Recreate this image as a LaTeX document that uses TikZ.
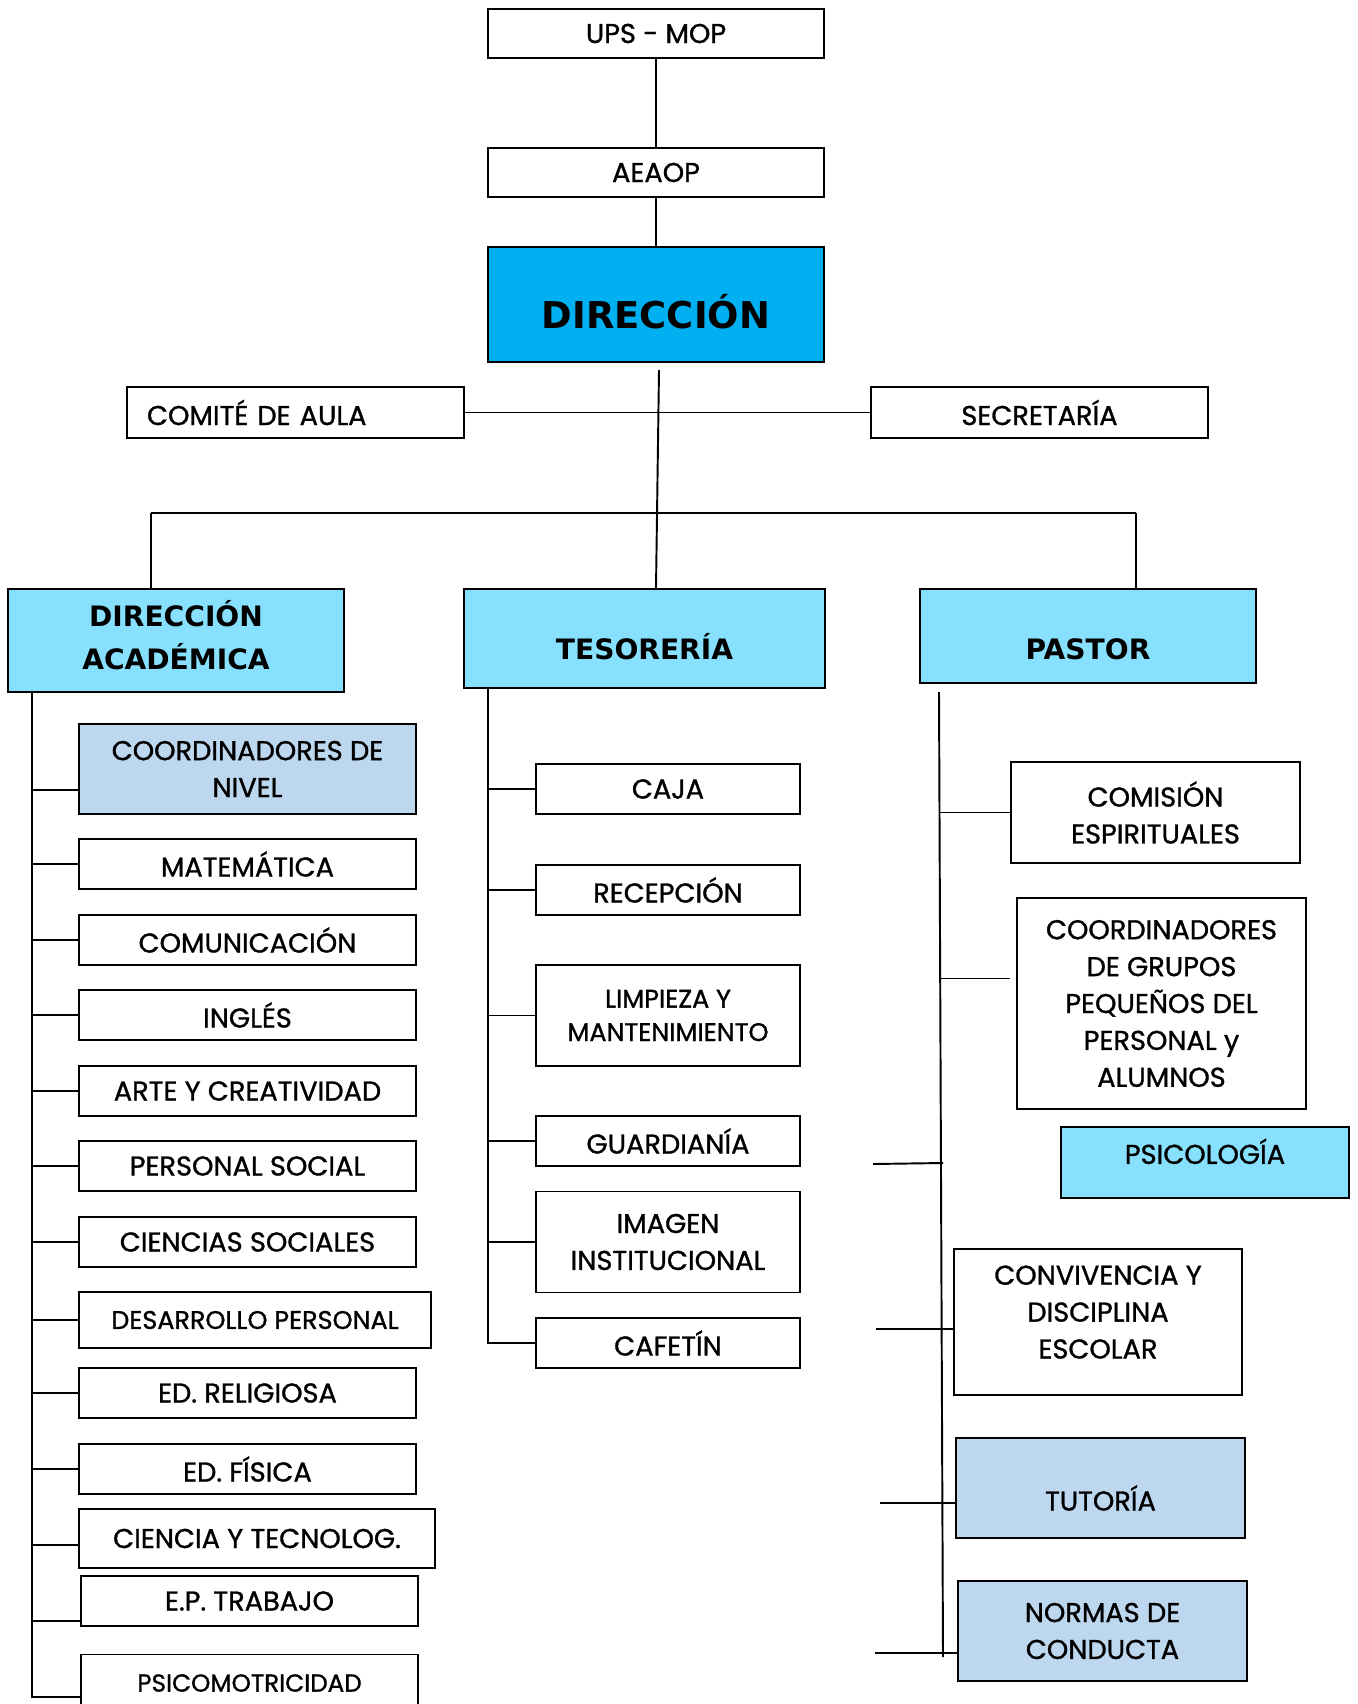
\documentclass[tikz,border=0pt]{standalone}
\usepackage{fontspec}
\setmainfont{Poppins}[FakeBold=1.1]
\newfontfamily\headfont{DejaVu Sans}
\usetikzlibrary{calc}

\definecolor{dircyan}{HTML}{00B0F0}
\definecolor{headcyan}{HTML}{87E0FD}
\definecolor{paleblue}{HTML}{BDD7EE}

\tikzset{
  box/.style={draw, line width=1.1pt, align=center, inner sep=2pt, font=\fontsize{15.5}{21}\selectfont},
  smallbox/.style={box, font=\fontsize{14.5}{19}\selectfont},
  headbox/.style={box, fill=headcyan, font=\headfont\bfseries\fontsize{16}{24}\selectfont},
  link/.style={line width=1.1pt},
}

\begin{document}
\begin{tikzpicture}[x=0.02cm,y=-0.02cm]
\useasboundingbox (0,0) rectangle (1358,1704);
% top of the chart
\node[box, minimum width=6.72cm, minimum height=0.98cm] (ups) at (656,33.5) {UPS - MOP};
\node[box, minimum width=6.72cm, minimum height=0.98cm] (aeaop) at (656,172.5) {AEAOP};
\node[box, fill=dircyan, minimum width=6.72cm, minimum height=2.3cm,
  font=\headfont\bfseries\fontsize{21}{26}\selectfont, text depth=0pt, text height=0.94cm] (dir) at (656,304.5) {DIRECCIÓN};
\node[box, minimum height=1.02cm, text width=5.94cm, inner xsep=0.4cm, align=left] (comite) at (295.5,412.5) {COMITÉ DE AULA};
\node[box, minimum width=6.74cm, minimum height=1.02cm] (secre) at (1039.5,412.5) {SECRETARÍA};
\coordinate (dirfoot) at (659,370);
\coordinate (busleft) at (151,513);
\coordinate (busright) at (1136,513);

% the three branches
\node[headbox, minimum width=6.72cm, minimum height=2.06cm, text depth=0.22cm] (dirac) at (176,640.5) {DIRECCIÓN\\ACADÉMICA};
\node[headbox, minimum width=7.22cm, minimum height=1.98cm, text depth=0pt, text height=0.83cm] (teso) at (644.5,638.5) {TESORERÍA};
\node[headbox, minimum width=6.72cm, minimum height=1.88cm, text depth=0pt, text height=0.93cm] (pastor) at (1088,636) {PASTOR};

\draw[link] (ups) -- (aeaop);
\draw[link] (aeaop) -- (dir);
\draw[link] (comite) -- (secre);
\draw[link] (dirfoot) -- (teso.north -| 656,0);
\draw[link] (busleft) -- (busright);
\draw[link] (busleft) -- (busleft |- dirac.north);
\draw[link] (busright) -- (busright |- pastor.north);

% direccion academica
\node[box, fill=paleblue, minimum width=6.74cm, minimum height=1.8cm] (coordniv) at (247.5,769) {COORDINADORES DE\\NIVEL};
\node[box, minimum width=6.74cm, minimum height=1cm] (mate) at (247.5,864) {MATEMÁTICA};
\node[box, minimum width=6.74cm, minimum height=1cm] (comu) at (247.5,940) {COMUNICACIÓN};
\node[box, minimum width=6.74cm, minimum height=1cm] (ingles) at (247.5,1015) {INGLÉS};
\node[box, minimum width=6.74cm, minimum height=1cm] (arte) at (247.5,1091) {ARTE Y CREATIVIDAD};
\node[box, minimum width=6.74cm, minimum height=1cm] (psocial) at (247.5,1166) {PERSONAL SOCIAL};
\node[box, minimum width=6.74cm, minimum height=1cm] (csociales) at (247.5,1242) {CIENCIAS SOCIALES};
\node[smallbox, minimum width=7.04cm, minimum height=1.12cm] (desarr) at (255,1320) {DESARROLLO PERSONAL};
\node[box, minimum width=6.74cm, minimum height=1cm] (religion) at (247.5,1393) {ED. RELIGIOSA};
\node[box, minimum width=6.74cm, minimum height=1cm] (fisica) at (247.5,1469) {ED. FÍSICA};
\node[box, minimum width=7.12cm, minimum height=1.18cm] (ciencia) at (257,1538.5) {CIENCIA Y TECNOLOG.};
\node[box, minimum width=6.74cm, minimum height=1cm] (trabajo) at (249.5,1601) {E.P. TRABAJO};
\node[smallbox, minimum width=6.74cm, minimum height=1.14cm, font=\fontsize{14}{19}\selectfont] (psicomot) at (249.5,1683) {PSICOMOTRICIDAD};
\coordinate (acadbus) at (32,692);
\coordinate (acadend) at (32,1698);
\draw[link] (acadbus) -- (acadend);
\draw[link] ([yshift=-0.42cm]coordniv.west -| acadbus) -- ([yshift=-0.42cm]coordniv.west);
\draw[link] (mate.west -| acadbus) -- (mate.west);
\draw[link] (comu.west -| acadbus) -- (comu.west);
\draw[link] (ingles.west -| acadbus) -- (ingles.west);
\draw[link] (arte.west -| acadbus) -- (arte.west);
\draw[link] (psocial.west -| acadbus) -- (psocial.west);
\draw[link] (csociales.west -| acadbus) -- (csociales.west);
\draw[link] (desarr.west -| acadbus) -- (desarr.west);
\draw[link] (religion.west -| acadbus) -- (religion.west);
\draw[link] (fisica.west -| acadbus) -- (fisica.west);
\draw[link] ([yshift=-0.13cm]ciencia.west -| acadbus) -- ([yshift=-0.13cm]ciencia.west);
\draw[link] ([yshift=-0.4cm]trabajo.west -| acadbus) -- ([yshift=-0.4cm]trabajo.west);
\draw[link] ([yshift=-0.28cm]psicomot.west -| acadbus) -- ([yshift=-0.28cm]psicomot.west);

% tesoreria
\node[box, minimum width=5.28cm, minimum height=1cm] (caja) at (668,789) {CAJA};
\node[box, minimum width=5.28cm, minimum height=1cm] (recep) at (668,890) {RECEPCIÓN};
\node[smallbox, minimum width=5.28cm, minimum height=2.02cm] (limpieza) at (668,1015.5) {LIMPIEZA Y\\MANTENIMIENTO};
\node[box, minimum width=5.28cm, minimum height=1cm] (guardia) at (668,1141) {GUARDIANÍA};
\node[box, minimum width=5.28cm, minimum height=2.02cm] (imagen) at (668,1242) {IMAGEN\\INSTITUCIONAL};
\node[box, minimum width=5.28cm, minimum height=1cm] (cafetin) at (668,1343) {CAFETÍN};
\coordinate (tesobus) at (488,688);
\draw[link] (tesobus) -- (cafetin.west -| tesobus) -- (cafetin.west);
\draw[link] (caja.west -| tesobus) -- (caja.west);
\draw[link] (recep.west -| tesobus) -- (recep.west);
\draw[link] (limpieza.west -| tesobus) -- (limpieza.west);
\draw[link] (guardia.west -| tesobus) -- (guardia.west);
\draw[link] (imagen.west -| tesobus) -- (imagen.west);

% pastor
\node[box, minimum width=5.78cm, minimum height=2.02cm] (comision) at (1155.5,812.5) {COMISIÓN\\ESPIRITUALES};
\node[box, minimum width=5.78cm, minimum height=4.22cm] (grupos) at (1161.5,1003.5) {COORDINADORES\\DE GRUPOS\\PEQUEÑOS DEL\\PERSONAL y\\ALUMNOS};
\node[box, fill=headcyan, minimum width=5.76cm, minimum height=1.42cm, text depth=0.45cm] (psico) at (1205,1162.5) {PSICOLOGÍA};
\node[box, minimum width=5.76cm, minimum height=2.92cm, text depth=0.4cm] (convive) at (1098,1322) {CONVIVENCIA Y\\DISCIPLINA\\ESCOLAR};
\node[box, fill=paleblue, minimum width=5.78cm, minimum height=2cm, text depth=0pt, text height=0.9cm] (tutoria) at (1100.5,1488) {TUTORÍA};
\node[box, fill=paleblue, minimum width=5.78cm, minimum height=2cm] (normas) at (1102.5,1631) {NORMAS DE\\CONDUCTA};
\coordinate (pastbus) at (939,692);
\coordinate (pastend) at (943,1657);
\draw[link] (pastbus) -- (pastend);
\draw[link] (comision.west -| pastbus) -- (comision.west);
\draw[link] ([yshift=0.5cm]grupos.west -| pastbus) -- ([yshift=0.5cm,xshift=-0.12cm]grupos.west);
\coordinate (psicoleft) at (873,1164);
\draw[link] (psicoleft) -- ++(70,-1);
\coordinate (conviveleft) at (876,1329);
\draw[link] (conviveleft) -- (conviveleft -| convive.west);
\coordinate (tutorialeft) at (880,1503);
\draw[link] (tutorialeft) -- (tutorialeft -| tutoria.west);
\coordinate (normasleft) at (875,1653);
\draw[link] (normasleft) -- (normasleft -| normas.west);
\end{tikzpicture}
\end{document}
